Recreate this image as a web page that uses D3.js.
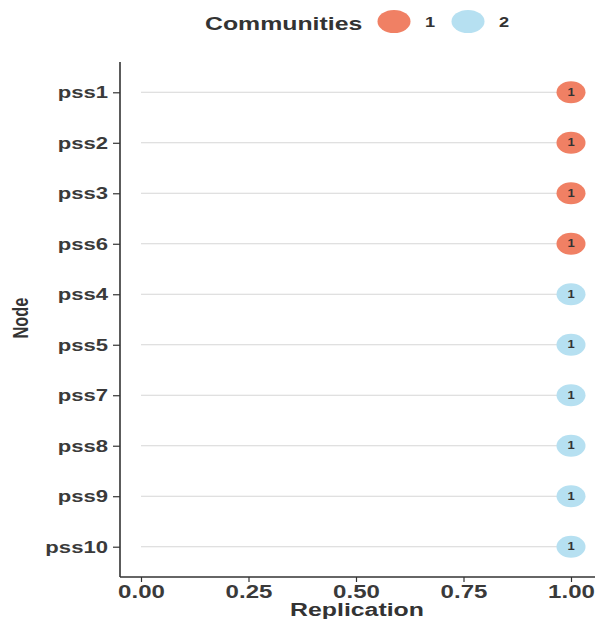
<!DOCTYPE html>
<html>
<head>
<meta charset="utf-8">
<script src="https://cdn.jsdelivr.net/npm/d3@7"></script>
<style>
  html, body { margin: 0; padding: 0; background: #fff; }
  svg { display: block; font-family: "Liberation Sans", Arial, sans-serif; }
</style>
</head>
<body>
<svg id="chart" width="601" height="619"></svg>
<script>
// Node order from top to bottom, with replication value and community
const nodes = ["pss1", "pss2", "pss3", "pss6", "pss4", "pss5", "pss7", "pss8", "pss9", "pss10"];
const replication = [1, 1, 1, 1, 1, 1, 1, 1, 1, 1];
const community = [1, 1, 1, 1, 2, 2, 2, 2, 2, 2];
const pointLabels = ["1", "1", "1", "1", "1", "1", "1", "1", "1", "1"];
const xTicks = [0, 0.25, 0.5, 0.75, 1];
const communityKeys = [1, 2];
const communityColors = ["#F08064", "#B6E0F1"];

const svg = d3.select("#chart");
const plotLeft = 120, plotRight = 595, plotTop = 62, plotBottom = 577;
// text is drawn wide: horizontal stretch factors
const sxTick = 1.3, sxTitle = 1.38;

const x = d3.scaleLinear().domain([0, 1]).range([141, 571]);
const y = d3.scalePoint().domain(nodes).range([plotTop, plotBottom]).padding(0.6);
const color = d3.scaleOrdinal().domain(communityKeys).range(communityColors);

const data = nodes.map((n, i) => ({ node: n, value: replication[i], comm: community[i], label: pointLabels[i] }));

// horizontal guide lines from 0 to the value
svg.append("g").selectAll("line").data(data).join("line")
  .attr("x1", x(0)).attr("x2", d => x(d.value))
  .attr("y1", d => y(d.node)).attr("y2", d => y(d.node))
  .attr("stroke", "#d6d6d6").attr("stroke-width", 1.1);

// axes
const yAxis = svg.append("g").attr("transform", `translate(${plotLeft},0)`)
  .call(d3.axisLeft(y).tickSize(7).tickPadding(5));
yAxis.select(".domain").attr("d", `M0,${plotTop}V${plotBottom}`);
yAxis.selectAll(".tick text")
  .attr("x", 0).attr("transform", `translate(-12,0) scale(${sxTick},1)`)
  .style("font-size", "17px");

const xAxis = svg.append("g").attr("transform", `translate(0,${plotBottom})`)
  .call(d3.axisBottom(x).tickValues(xTicks).tickFormat(d3.format(".2f")).tickSize(5).tickPadding(2.6));
xAxis.select(".domain").attr("d", `M${plotLeft},0H${plotRight}`);
xAxis.selectAll(".tick text")
  .attr("transform", `scale(${sxTick},1)`)
  .style("font-size", "18.5px");

[yAxis, xAxis].forEach(g => {
  g.selectAll(".domain").attr("stroke", "#333").attr("stroke-width", 1.6);
  g.selectAll(".tick line").attr("stroke", "#333").attr("stroke-width", 1.2);
  g.selectAll(".tick text").attr("fill", "#3a3a3a").style("font-weight", "bold");
});

// points
const pts = svg.append("g").selectAll("g").data(data).join("g")
  .attr("transform", d => `translate(${x(d.value)},${y(d.node)})`);
pts.append("ellipse").attr("rx", 14.5).attr("ry", 11).attr("fill", d => color(d.comm));
pts.append("text").text(d => d.label)
  .attr("text-anchor", "middle").attr("dy", "0.36em")
  .attr("transform", `scale(${sxTick},1)`)
  .attr("fill", "#333").style("font-size", "10px").style("font-weight", "bold");

// axis titles
svg.append("text").attr("transform", `translate(357,616) scale(${sxTitle},1)`)
  .attr("text-anchor", "middle").attr("fill", "#333")
  .style("font-size", "18px").style("font-weight", "bold").text("Replication");
svg.append("text").attr("transform", `translate(28,318) scale(${sxTitle},1) rotate(-90)`)
  .attr("text-anchor", "middle").attr("fill", "#333")
  .style("font-size", "16.4px").style("font-weight", "bold").text("Node");

// legend
const legend = svg.append("g");
legend.append("text").attr("transform", `translate(205,30) scale(${sxTitle},1)`).attr("fill", "#333")
  .style("font-size", "18px").style("font-weight", "bold").text("Communities");
const items = legend.selectAll("g.item").data(communityKeys).join("g")
  .attr("class", "item")
  .attr("transform", (d, i) => `translate(${394 + i * 74},21.5)`);
items.append("ellipse").attr("rx", 16.5).attr("ry", 11.5).attr("fill", d => color(d));
items.append("text").attr("transform", `translate(36,0) scale(${sxTick},1)`)
  .attr("text-anchor", "middle").attr("dy", "0.36em").attr("fill", "#333")
  .style("font-size", "14px").style("font-weight", "bold").text(d => d);
</script>
</body>
</html>
